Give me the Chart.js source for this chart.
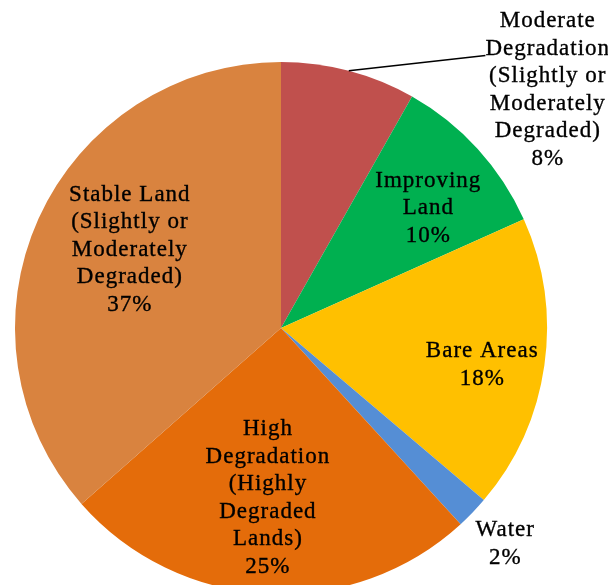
<!DOCTYPE html>
<html>
<head>
<meta charset="utf-8">
<script src="https://cdn.jsdelivr.net/npm/chart.js@4"></script>
<style>
  html, body { margin: 0; padding: 0; background: #fff; overflow: hidden; }
</style>
</head>
<body>
<canvas id="landChart" width="608" height="600"></canvas>
<script>
// land cover change shares (%)
const categories = [
    ['Moderate', 'Degradation', '(Slightly or', 'Moderately', 'Degraded)'],
    ['Improving', 'Land'],
    ['Bare Areas'],
    ['Water'],
    ['High', 'Degradation', '(Highly', 'Degraded', 'Lands)'],
    ['Stable Land', '(Slightly or', 'Moderately', 'Degraded)']
];
const shares = [8.2, 10.1, 17.9, 2.0, 25.3, 36.5];
const sliceColors = ['#C0504D', '#00B050', '#FFC000', '#558ED5', '#E46C0A', '#D9833F'];

// where each label sits: fraction of radius along slice middle, plus a nudge
const labelLayout = [
    { frac: 1.0, dx: 199, dy: 19, leader: true },
    { frac: 0.713, dx: 7, dy: 8 },
    { frac: 0.768, dx: -1, dy: 8 },
    { frac: 1.165, dx: 1, dy: 1 },
    { frac: 0.639, dx: -4, dy: 0 },
    { frac: 0.64, dx: 4, dy: -8 }
];

const sliceLabels = {
    id: 'sliceLabels',
    afterDatasetsDraw(chart) {
        const ctx = chart.ctx;
        const arcs = chart.getDatasetMeta(0).data;
        const lineH = 27.5;
        ctx.save();
        ctx.font = '23px "Liberation Serif", "Times New Roman", serif';
        ctx.letterSpacing = '1px';
        ctx.fillStyle = '#000';
        ctx.strokeStyle = '#000';
        ctx.lineWidth = 0.35;
        ctx.textAlign = 'center';
        ctx.textBaseline = 'middle';
        arcs.forEach((arc, i) => {
            const p = arc.getProps(['x', 'y', 'startAngle', 'endAngle', 'outerRadius'], true);
            const mid = (p.startAngle + p.endAngle) / 2;
            const lay = labelLayout[i];
            const cx = p.x + Math.cos(mid) * p.outerRadius * lay.frac + lay.dx;
            const cy = p.y + Math.sin(mid) * p.outerRadius * lay.frac + lay.dy;
            const lines = categories[i].concat([Math.round(shares[i]) + '%']);
            const top = cy - (lines.length - 1) * lineH / 2;
            lines.forEach((t, k) => {
                ctx.fillText(t, cx, top + k * lineH);
                ctx.strokeText(t, cx, top + k * lineH);
            });
            if (lay.leader) {
                const ex = p.x + Math.cos(mid) * p.outerRadius;
                const ey = p.y + Math.sin(mid) * p.outerRadius;
                const w = ctx.measureText(lines[1]).width;
                ctx.beginPath();
                ctx.moveTo(ex, ey);
                ctx.lineTo(cx - w / 2, top + lineH + 7);
                ctx.lineWidth = 1.5;
                ctx.stroke();
                ctx.lineWidth = 0.35;
            }
        });
        ctx.restore();
    }
};

new Chart(document.getElementById('landChart'), {
    type: 'pie',
    data: {
        labels: categories.map(c => c.join(' ')),
        datasets: [{
            data: shares,
            backgroundColor: sliceColors,
            borderWidth: 0,
            hoverOffset: 0
        }]
    },
    options: {
        responsive: false,
        devicePixelRatio: 1,
        animation: false,
        layout: { padding: { left: 15, right: 61, top: 62, bottom: 6 } },
        plugins: {
            legend: { display: false },
            tooltip: { enabled: false }
        }
    },
    plugins: [sliceLabels]
});
</script>
</body>
</html>
